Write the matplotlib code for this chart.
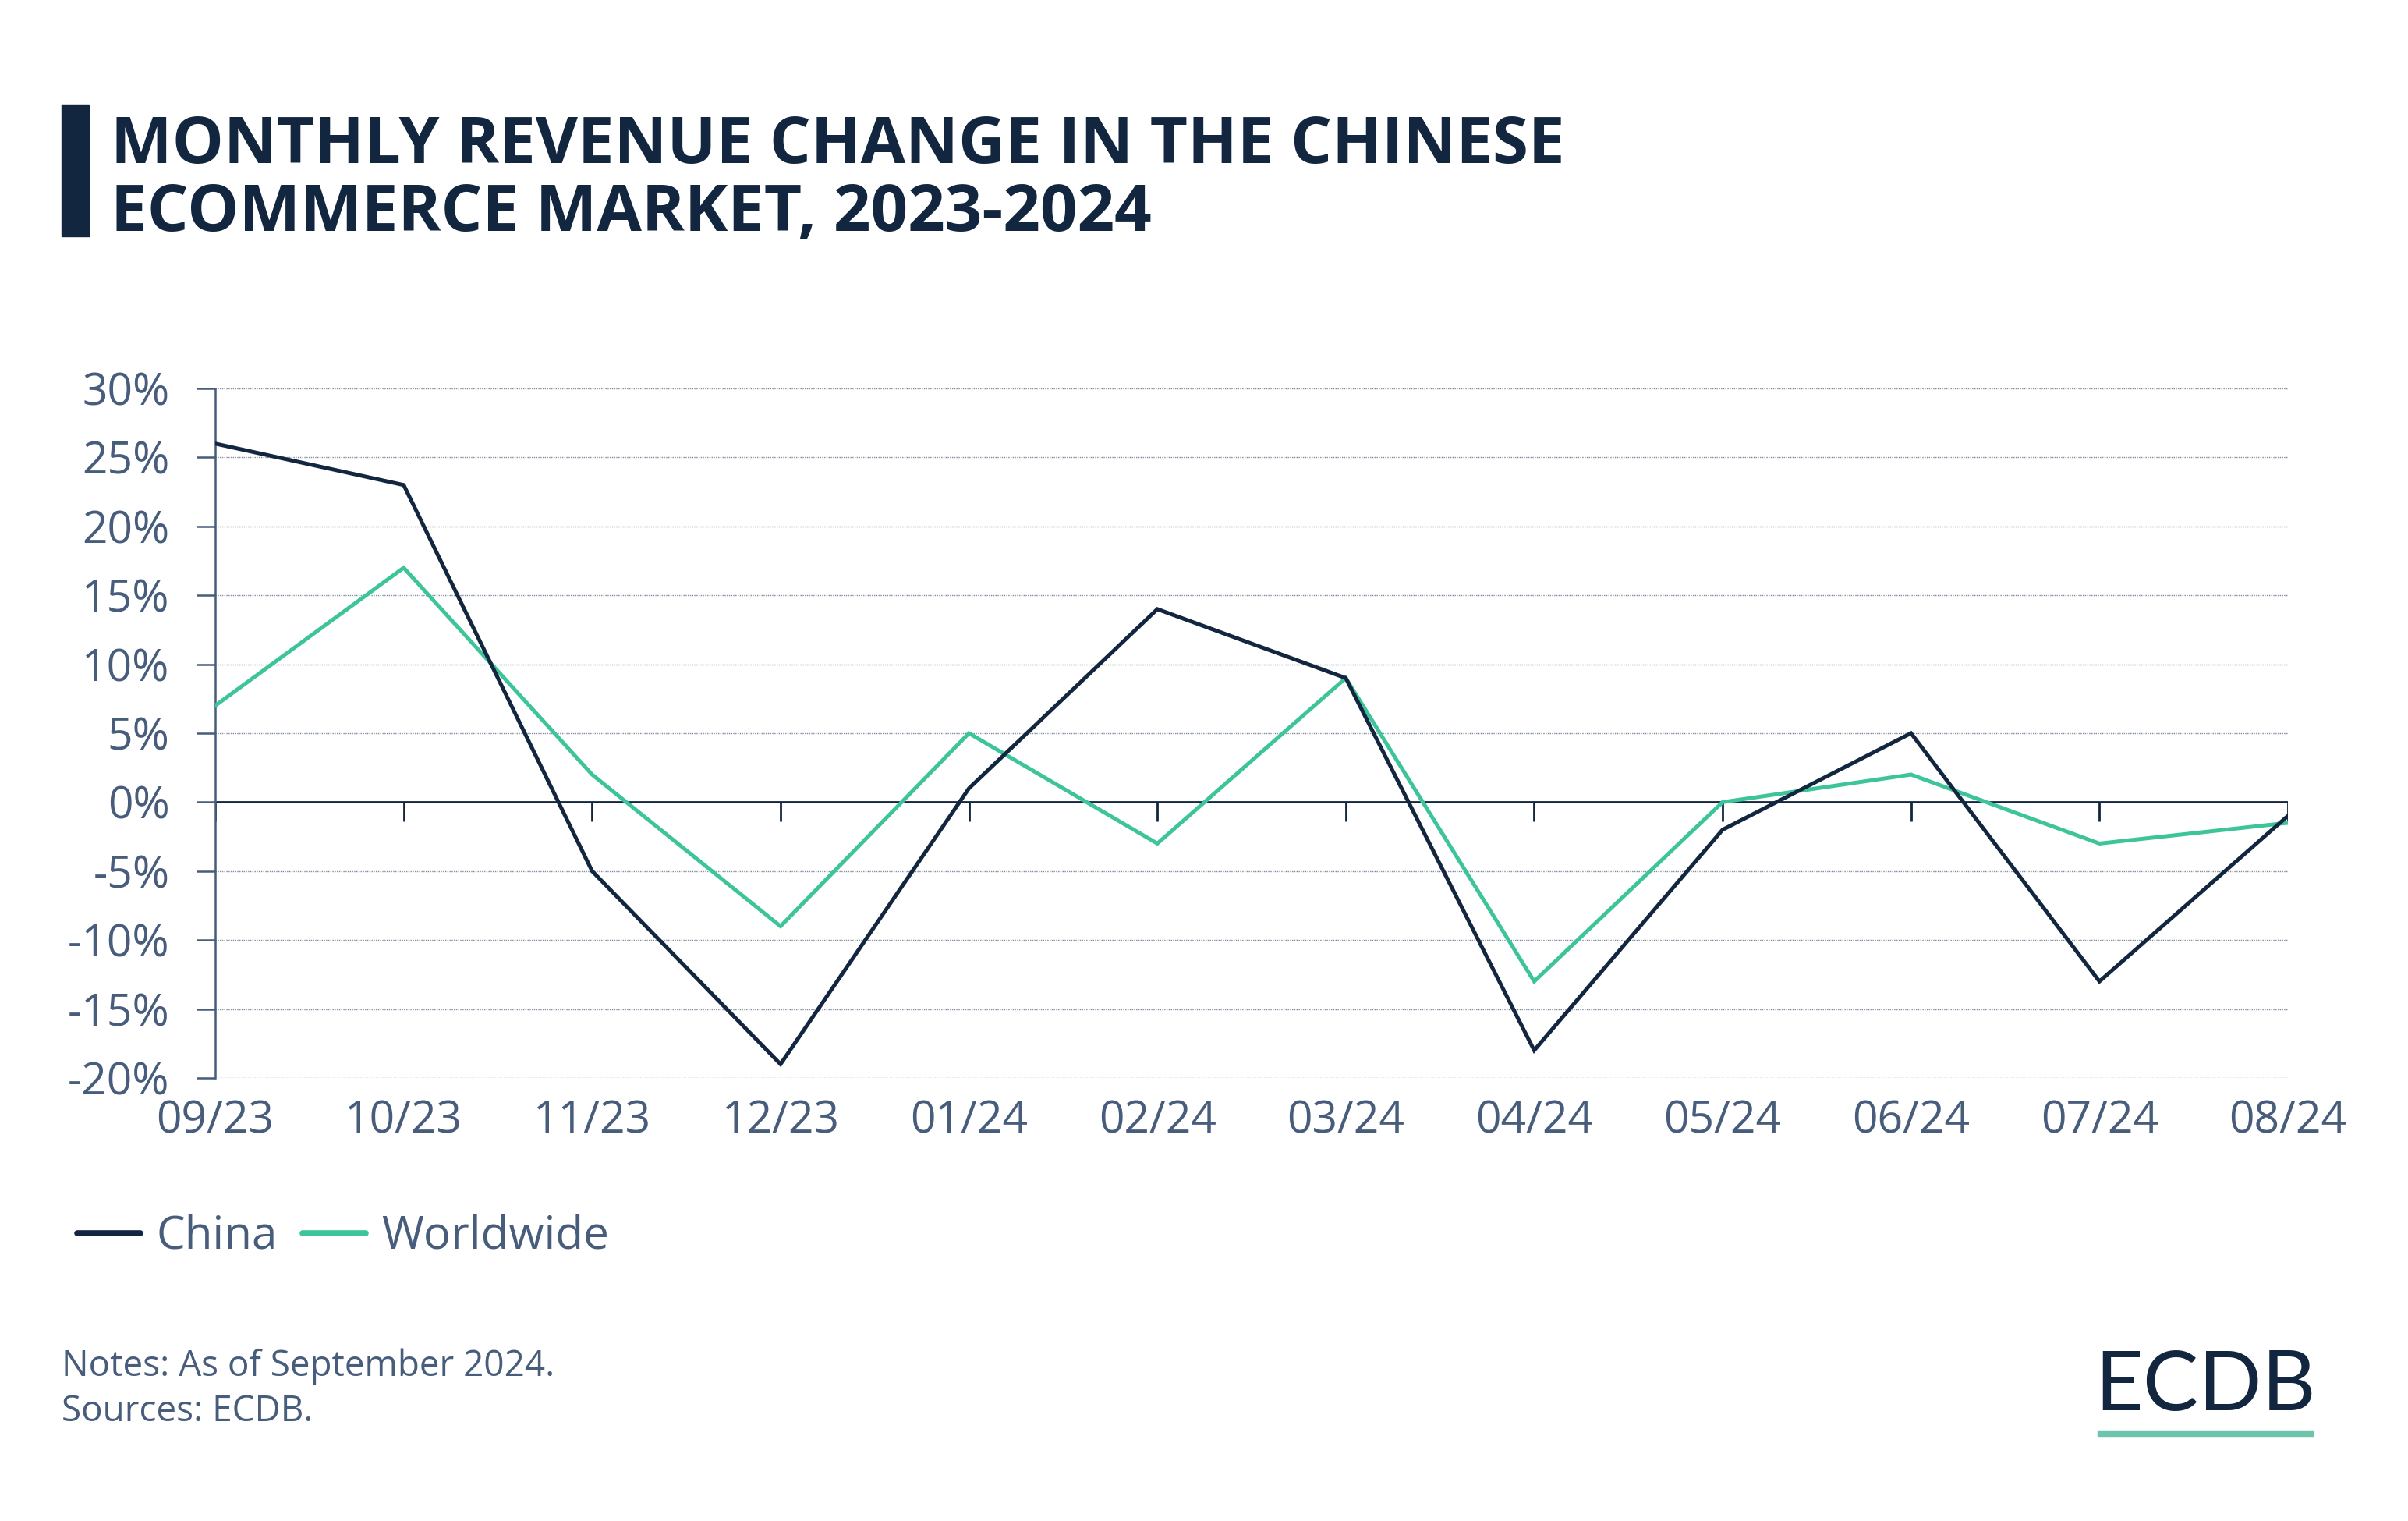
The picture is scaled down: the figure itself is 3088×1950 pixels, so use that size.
import matplotlib.pyplot as plt
from matplotlib.lines import Line2D
from matplotlib.patches import Rectangle

# data (percent change)
months = ["09/23", "10/23", "11/23", "12/23", "01/24", "02/24",
          "03/24", "04/24", "05/24", "06/24", "07/24", "08/24"]
china = [26, 23, -5, -19, 1, 14, 9, -18, -2, 5, -13, -1]
worldwide = [7, 17, 2, -9, 5, -3, 9, -13, 0, 2, -3, -1.5]
y_ticks = [-20, -15, -10, -5, 0, 5, 10, 15, 20, 25, 30]

NAVY = "#13263f"
GREEN = "#3ec49a"
SLATE = "#475d7b"
GRID = "#7f8b9d"

plt.rcParams['font.family'] = ['Open Sans', 'DejaVu Sans']

fig = plt.figure(figsize=(30.88, 19.5), dpi=100)
ax = fig.add_axes([0.0894, 0.2913, 0.8607, 0.4533])

x = list(range(len(months)))
ax.plot(x, china, color=NAVY, lw=3.6, solid_joinstyle='miter', zorder=4)
ax.plot(x, worldwide, color=GREEN, lw=3.6, solid_joinstyle='miter', zorder=3)

# zero line with downward category ticks
ax.axhline(0, color=NAVY, lw=2, zorder=2)
ax.vlines(x, -1.4, 0, color=NAVY, lw=2, zorder=2)

ax.set_xlim(0, len(months) - 1)
ax.set_ylim(-20, 30)
ax.set_yticks(y_ticks)
ax.set_yticklabels([f"{v}%" for v in y_ticks])
ax.set_xticks(x)
ax.set_xticklabels(months)

ax.yaxis.grid(True, color=GRID, lw=1.0, linestyle=(0, (1, 1)))
ax.set_axisbelow(True)
for s in ['top', 'right', 'bottom']:
    ax.spines[s].set_visible(False)
ax.spines['left'].set_color(SLATE)
ax.spines['left'].set_linewidth(1.8)

ax.tick_params(axis='y', length=17, width=1.8, color=SLATE, labelcolor=SLATE,
               labelsize=41, pad=25)
ax.tick_params(axis='x', length=0, labelcolor=SLATE, labelsize=41, pad=20)

# title with side bar
fig.patches.append(Rectangle((79 / 3088, 1 - 303 / 1950), 35 / 3088, 169 / 1950,
                             transform=fig.transFigure, color=NAVY))
fig.text(142 / 3088, 1 - 209 / 1950, "MONTHLY REVENUE CHANGE IN THE CHINESE",
         fontsize=60, fontweight='bold', color=NAVY, va='baseline')
fig.text(142 / 3088, 1 - 296 / 1950, "ECOMMERCE MARKET, 2023-2024",
         fontsize=60, fontweight='bold', color=NAVY, va='baseline')

# legend
handles = [Line2D([], [], color=NAVY, lw=5.5, solid_capstyle='round'),
           Line2D([], [], color=GREEN, lw=5.5, solid_capstyle='round')]
fig.legend(handles, ["China", "Worldwide"], loc='center left',
           bbox_to_anchor=(99 / 3088, 1 - 1586 / 1950), ncol=2, frameon=False,
           fontsize=42, labelcolor=SLATE, handlelength=1.39, handletextpad=0.35,
           columnspacing=0.55, borderaxespad=0, borderpad=0)

# notes
fig.text(79 / 3088, 1 - 1752 / 1950, "Notes: As of September 2024.",
         fontsize=33, color=SLATE, va='center')
fig.text(79 / 3088, 1 - 1810 / 1950, "Sources: ECDB.",
         fontsize=33, color=SLATE, va='center')

# logo
fig.text(2828 / 3088, 1 - 1778 / 1950, "ECDB", fontsize=77, color=NAVY,
         ha='center', va='center', family='Lato')
fig.patches.append(Rectangle((2690 / 3088, 1 - 1841 / 1950), 276 / 3088, 7 / 1950,
                             transform=fig.transFigure, color="#6cc4ad"))

fig.savefig("out.png", dpi=100, facecolor='white')
